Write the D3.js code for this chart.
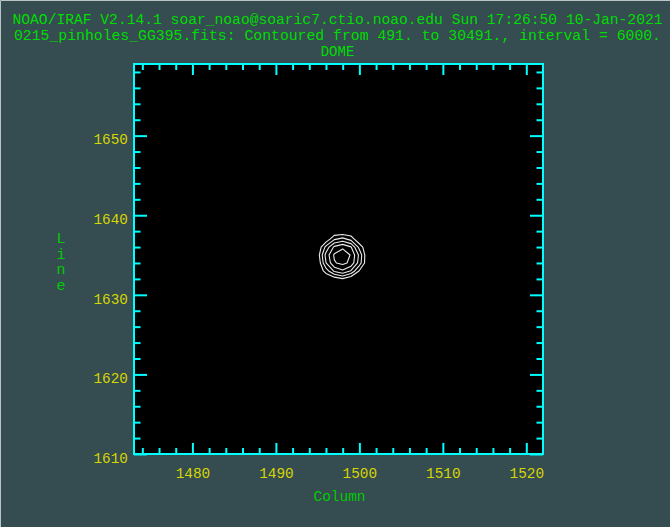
<!DOCTYPE html>
<html>
<head>
<meta charset="utf-8">
<script src="https://cdn.jsdelivr.net/npm/d3@7"></script>
<style>
  html, body { margin: 0; padding: 0; background: #354c51; }
  svg { display: block; }
</style>
</head>
<body>
<script>
// Header text and axis titles
const titleLines = [
  "NOAO/IRAF V2.14.1 soar_noao@soaric7.ctio.noao.edu Sun 17:26:50 10-Jan-2021",
  "0215_pinholes_GG395.fits: Contoured from 491. to 30491., interval = 6000.",
  "DOME"
];
const xTitle = "Column";
const yTitle = "Line";

// Image section shown (pixel coordinates)
const columnRange = [1473, 1522];
const lineRange = [1610, 1659];
const columnTickLabels = [1480, 1490, 1500, 1510, 1520];
const lineTickLabels = [1610, 1620, 1630, 1640, 1650];

// Contour levels: 491 to 30491 in steps of 6000
const contourLevels = [491, 6491, 12491, 18491, 24491, 30491];

// Pixel values around the pinhole image (rows: lines 1631..1638, cols: 1494..1502)
const firstColumn = 1494;
const firstLine = 1631;
const pixelRows = [
  [612, 655, 701, 688, 730, 694, 652, 633, 598],
  [640, 702, 815, 2823, 5900, 1472, 760, 671, 620],
  [668, 790, 9100, 19582, 23582, 17785, 5912, 744, 655],
  [701, 820, 18315, 29900, 32200, 28900, 15600, 805, 672],
  [690, 2900, 20491, 31400, 33400, 30100, 17079, 912, 684],
  [676, 880, 14256, 25691, 29600, 24791, 10400, 790, 661],
  [648, 735, 1858, 11582, 14609, 10127, 930, 702, 640],
  [615, 668, 720, 744, 760, 731, 690, 652, 605]
];

const W = 670, H = 527;
const plot = { left: 134, right: 543, top: 64, bottom: 454 };
const mono = "'Liberation Mono', 'DejaVu Sans Mono', monospace";
const cyan = "#00ffff";
const green = "#00dd00";
const labelGreen = "#00cc00";
const yellow = "#d6d600";

const svg = d3.select("body").append("svg")
  .attr("width", W).attr("height", H);

svg.append("rect").attr("width", W).attr("height", H).attr("fill", "#354c51");
// window edge highlight
svg.append("path").attr("d", `M0.5,${H}V0.5H${W}`)
  .attr("fill", "none").attr("stroke", "#b9c4c4").attr("stroke-width", 1);

const x = d3.scaleLinear().domain(columnRange).range([plot.left, plot.right]);
const y = d3.scaleLinear().domain(lineRange).range([plot.bottom, plot.top]);

// plot field
svg.append("rect")
  .attr("x", plot.left).attr("y", plot.top)
  .attr("width", plot.right - plot.left).attr("height", plot.bottom - plot.top)
  .attr("fill", "#000");

// contours
const values = pixelRows.flat();
const nCols = pixelRows[0].length, nRows = pixelRows.length;
const dataMin = d3.min(values);
const contourGen = d3.contours()
  .size([nCols, nRows])
  .thresholds(contourLevels.filter(l => l > dataMin));
const toPlot = d3.geoTransform({
  point(px, py) {
    this.stream.point(x(firstColumn + px - 0.5), y(firstLine + py - 0.5));
  }
});
const contourPath = d3.geoPath(toPlot);
svg.append("g").selectAll("path")
  .data(contourGen(values))
  .join("path")
  .attr("d", contourPath)
  .attr("fill", "none")
  .attr("stroke", "#ececec")
  .attr("stroke-width", 1.1)
  .attr("stroke-linejoin", "round");

// axes with inward ticks on all four sides
const minorCols = d3.range(1474, 1522, 2).filter(v => !columnTickLabels.includes(v));
const minorLines = d3.range(1612, 1659, 2).filter(v => !lineTickLabels.includes(v));

function styleAxis(g) {
  g.select(".domain").remove();
  g.selectAll(".tick line").attr("stroke", cyan).attr("stroke-width", 2);
  g.selectAll(".tick text")
    .attr("fill", yellow)
    .attr("font-family", mono)
    .attr("font-size", 15);
}

const xMajLen = 11, xMinLen = 6, yMajLen = 13, yMinLen = 6.5;

svg.append("g").attr("transform", `translate(0,${plot.bottom})`)
  .call(d3.axisBottom(x).tickValues(columnTickLabels).tickSize(-xMajLen).tickPadding(13).tickFormat(d3.format("d")))
  .call(styleAxis)
  .call(g => g.selectAll(".tick text").attr("textLength", 34.5).attr("lengthAdjust", "spacingAndGlyphs"));
svg.append("g").attr("transform", `translate(0,${plot.bottom})`)
  .call(d3.axisBottom(x).tickValues(minorCols).tickSize(-xMinLen).tickFormat(""))
  .call(styleAxis);
svg.append("g").attr("transform", `translate(0,${plot.top})`)
  .call(d3.axisTop(x).tickValues(columnTickLabels).tickSize(-xMajLen).tickFormat(""))
  .call(styleAxis);
svg.append("g").attr("transform", `translate(0,${plot.top})`)
  .call(d3.axisTop(x).tickValues(minorCols).tickSize(-xMinLen).tickFormat(""))
  .call(styleAxis);

svg.append("g").attr("transform", `translate(${plot.left},0)`)
  .call(d3.axisLeft(y).tickValues(lineTickLabels).tickSize(-yMajLen).tickPadding(6).tickFormat(d3.format("d")))
  .call(styleAxis)
  .call(g => g.selectAll(".tick text").attr("dy", "0.55em").attr("textLength", 34.5).attr("lengthAdjust", "spacingAndGlyphs"));
svg.append("g").attr("transform", `translate(${plot.left},0)`)
  .call(d3.axisLeft(y).tickValues(minorLines).tickSize(-yMinLen).tickFormat(""))
  .call(styleAxis);
svg.append("g").attr("transform", `translate(${plot.right},0)`)
  .call(d3.axisRight(y).tickValues(lineTickLabels).tickSize(-yMajLen).tickFormat(""))
  .call(styleAxis);
svg.append("g").attr("transform", `translate(${plot.right},0)`)
  .call(d3.axisRight(y).tickValues(minorLines).tickSize(-yMinLen).tickFormat(""))
  .call(styleAxis);

// frame
svg.append("rect")
  .attr("x", plot.left).attr("y", plot.top)
  .attr("width", plot.right - plot.left).attr("height", plot.bottom - plot.top)
  .attr("fill", "none").attr("stroke", cyan).attr("stroke-width", 2);

// header
const titleBaselines = [23.5, 40, 56];
const titleWidths = [650, 647, null];
titleLines.forEach((t, i) => {
  const el = svg.append("text")
    .attr("x", 337.5).attr("y", titleBaselines[i])
    .attr("text-anchor", "middle")
    .attr("font-family", mono).attr("font-size", 14)
    .attr("fill", green)
    .text(t);
  if (titleWidths[i]) el.attr("textLength", titleWidths[i]).attr("lengthAdjust", "spacingAndGlyphs");
});

// axis titles
svg.append("text")
  .attr("x", 339.5).attr("y", 501)
  .attr("text-anchor", "middle")
  .attr("font-family", mono).attr("font-size", 15)
  .attr("fill", labelGreen)
  .attr("textLength", 52).attr("lengthAdjust", "spacingAndGlyphs")
  .text(xTitle);

const yt = svg.append("text")
  .attr("font-family", mono).attr("font-size", 15)
  .attr("fill", labelGreen)
  .attr("text-anchor", "middle");
yTitle.split("").forEach((ch, i) => {
  yt.append("tspan").attr("x", 61).attr("y", 243 + i * 15.7).text(ch);
});
</script>
</body>
</html>
